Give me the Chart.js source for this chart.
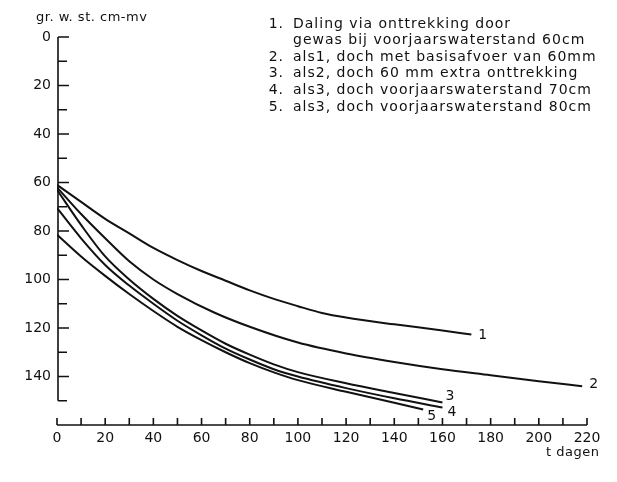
<!DOCTYPE html>
<html>
<head>
<meta charset="utf-8">
<script src="https://cdn.jsdelivr.net/npm/chart.js@4/dist/chart.umd.min.js"></script>
<style>
  html, body { margin: 0; padding: 0; background: #fff; }
</style>
</head>
<body>
<canvas id="grafiek" width="617" height="482"></canvas>
<script>
// grondwaterstand (cm - mv) tegen tijd (dagen)
const dagen1 = [0, 10, 20, 30, 40, 50, 60, 70, 80, 90, 100, 110, 120, 140, 160, 172];
const stand1 = [61, 68, 75, 81, 87, 92, 96.5, 100.5, 104.5, 108, 111, 113.8, 115.7, 118.5, 121, 122.7];

const dagen2 = [0, 10, 20, 30, 40, 50, 65, 80, 100, 120, 140, 160, 180, 200, 218];
const stand2 = [62, 73, 83, 92.5, 100, 106, 113.5, 119.5, 126, 130.5, 134, 137, 139.5, 142, 144];

const dagen3 = [0, 10, 20, 30, 40, 50, 60, 70, 80, 90, 100, 120, 140, 160];
const stand3 = [63, 77.5, 90.5, 100, 108, 115, 121, 126.5, 131, 135, 138.2, 142.8, 146.8, 150.7];

const dagen4 = [0, 10, 20, 30, 40, 50, 60, 70, 80, 90, 100, 120, 140, 160];
const stand4 = [70.5, 83, 94, 102.5, 110, 117, 123, 128.5, 133, 137, 140, 144.8, 149, 152.8];

const dagen5 = [0, 10, 20, 30, 40, 50, 60, 70, 80, 90, 100, 120, 140, 152];
const stand5 = [81.5, 90.5, 98.5, 106, 113, 119.5, 125, 130, 134.5, 138.3, 141.5, 146.3, 150.8, 153.6];

const nummers = ["1", "2", "3", "4", "5"];
const legendaRegels = [
  ["1.", "Daling via onttrekking door"],
  ["", "gewas bij voorjaarswaterstand 60cm"],
  ["2.", "als1, doch met basisafvoer van 60mm"],
  ["3.", "als2, doch 60 mm extra onttrekking"],
  ["4.", "als3, doch voorjaarswaterstand 70cm"],
  ["5.", "als3, doch voorjaarswaterstand 80cm"],
];
const yTitel = "gr. w. st. cm-mv";
const xTitel = "t dagen";

// verschuiving van de nummers t.o.v. het eindpunt van elke lijn
const nummerOffset = [[7, 1], [7, -2], [3, -6], [5, 5], [4, 7]];

const reeksen = [[dagen1, stand1], [dagen2, stand2], [dagen3, stand3], [dagen4, stand4], [dagen5, stand5]];

const inkt = "#111";
Chart.defaults.font.family = "'DejaVu Sans', sans-serif";
Chart.defaults.font.size = 14;
Chart.defaults.color = inkt;

const assen = {
  id: "assen",
  beforeDatasetsDraw(chart) {
    const ctx = chart.ctx;
    const sx = chart.scales.x, sy = chart.scales.y;
    const x0 = sx.getPixelForValue(0) + 1;
    const xb = chart.chartArea.bottom;
    ctx.save();
    ctx.strokeStyle = inkt;
    ctx.lineWidth = 1.6;
    ctx.beginPath();
    ctx.moveTo(x0, sy.getPixelForValue(0));
    ctx.lineTo(x0, sy.getPixelForValue(150));
    for (let v = 0; v <= 150; v += 10) {
      const py = sy.getPixelForValue(v);
      ctx.moveTo(x0, py);
      ctx.lineTo(x0 + (v % 20 === 0 ? 11 : 9), py);
    }
    ctx.moveTo(sx.getPixelForValue(0), xb);
    ctx.lineTo(sx.getPixelForValue(220), xb);
    for (let d = 0; d <= 220; d += 10) {
      const px = sx.getPixelForValue(d);
      ctx.moveTo(px, xb);
      ctx.lineTo(px, xb - 7);
    }
    ctx.stroke();
    ctx.restore();
  },
};

const teksten = {
  id: "teksten",
  afterDraw(chart) {
    const ctx = chart.ctx;
    const sx = chart.scales.x, sy = chart.scales.y;
    ctx.save();
    ctx.fillStyle = inkt;
    ctx.textBaseline = "middle";
    ctx.font = "13px 'DejaVu Sans', sans-serif";

    ctx.letterSpacing = "0.5px";
    ctx.textAlign = "left";
    ctx.fillText(yTitel, 36, 18);
    ctx.fillText(xTitel, 546, 453);

    ctx.font = "14px 'DejaVu Sans', sans-serif";
    ctx.letterSpacing = "1px";
    legendaRegels.forEach((r, i) => {
      const y = 24 + i * 16.6;
      ctx.textAlign = "right";
      ctx.fillText(r[0], 284, y);
      ctx.textAlign = "left";
      ctx.fillText(r[1], 293, y);
    });

    ctx.letterSpacing = "0px";
    ctx.textAlign = "left";
    reeksen.forEach((r, i) => {
      const n = r[0].length - 1;
      const px = sx.getPixelForValue(r[0][n]) + nummerOffset[i][0];
      const py = sy.getPixelForValue(r[1][n]) + nummerOffset[i][1];
      ctx.fillText(nummers[i], px, py);
    });
    ctx.restore();
  },
};

const datasets = reeksen.map((r, i) => ({
  label: nummers[i],
  data: r[0].map((d, j) => ({ x: d, y: r[1][j] })),
  borderColor: inkt,
  borderWidth: 2,
  pointRadius: 0,
  fill: false,
  cubicInterpolationMode: "monotone",
}));

new Chart(document.getElementById("grafiek"), {
  type: "line",
  data: { datasets },
  options: {
    responsive: false,
    animation: false,
    layout: { padding: { left: 0, top: 37, right: 30, bottom: 0 } },
    plugins: { legend: { display: false }, tooltip: { enabled: false } },
    scales: {
      x: {
        type: "linear",
        min: 0,
        max: 220,
        grid: { display: false, drawTicks: false },
        border: { display: false },
        ticks: { stepSize: 20, padding: 5, maxRotation: 0, autoSkip: false },
        afterFit(scale) { scale.height = 57; },
      },
      y: {
        type: "linear",
        reverse: true,
        min: 0,
        max: 160,
        grid: { display: false, drawTicks: false },
        border: { display: false },
        ticks: {
          stepSize: 20,
          padding: 6,
          callback: (v) => (v <= 140 ? v : ""),
        },
        afterFit(scale) { scale.width = 57; },
      },
    },
  },
  plugins: [assen, teksten],
});
</script>
</body>
</html>
